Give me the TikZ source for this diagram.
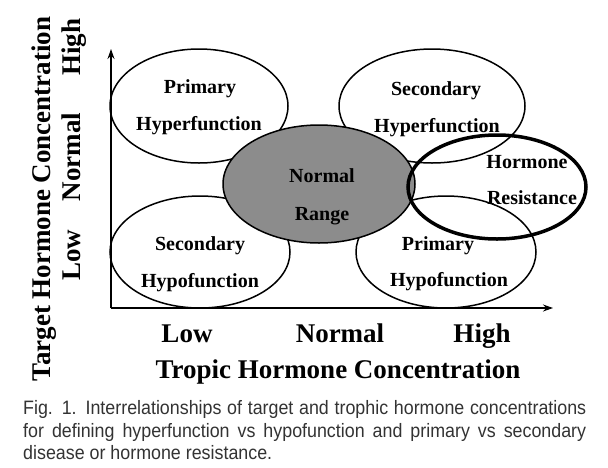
\documentclass[tikz,border=0pt]{standalone}
\usepackage{fontspec}
\setmainfont{Liberation Serif}
\newfontfamily\capfont[FakeStretch=0.92]{Liberation Sans}
\usetikzlibrary{arrows.meta}
\definecolor{rangegray}{gray}{0.55}
\definecolor{capgray}{gray}{0.2}

\begin{document}
\begin{tikzpicture}[x=1pt, y=-1pt, >={Stealth[length=10pt,width=7pt]},
    region/.style={line width=1.5pt},
    inlbl/.style={font=\fontsize{20}{22}\selectfont\bfseries, anchor=base, inner sep=0pt},
    axlbl/.style={font=\fontsize{27}{30}\selectfont\bfseries, anchor=base, inner sep=0pt},
    caplbl/.style={font=\capfont\fontsize{19.4}{22}\selectfont, text=capgray, anchor=base west, inner sep=0pt}]
    \useasboundingbox (0,0) rectangle (608,467);
    \fill[white] (0,0) rectangle (608,467);
    % axes
    \coordinate (O) at (111,308);
    \coordinate (Ytip) at (111,49);
    \coordinate (Xtip) at (553,308);
    \draw[->,line width=1.2pt] (O) -- (Ytip);
    \draw[->,line width=1.2pt] (O) -- (Xtip);
    % regions
    \coordinate (PHyper) at (199,106);
    \coordinate (SHyper) at (432,106);
    \coordinate (SHypo) at (200,252);
    \coordinate (PHypo) at (446,252);
    \coordinate (NR) at (319,184);
    \coordinate (HR) at (497,187);
    \foreach \c/\rx/\ry in {PHyper/89/57, SHyper/93/57, SHypo/90/56, PHypo/90/56}
        \draw[region] (\c) ellipse ({\rx} and {\ry});
    \draw[region,fill=rangegray] (NR) ellipse (96 and 59);
    \draw[line width=3.5pt] (HR) ellipse (89 and 52);
    % region labels
    \node[inlbl] (phyper1) at (200,93) {Primary};
    \node[inlbl] (phyper2) at (199,130) {Hyperfunction};
    \node[inlbl] (shyper1) at (436,95) {Secondary};
    \node[inlbl] (shyper2) at (437,132) {Hyperfunction};
    \node[inlbl] (nr1) at (322,182) {Normal};
    \node[inlbl] (nr2) at (322,220) {Range};
    \node[inlbl] (hr1) at (527,168) {Hormone};
    \node[inlbl] (hr2) at (532,204) {Resistance};
    \node[inlbl] (shypo1) at (200,250) {Secondary};
    \node[inlbl] (shypo2) at (200,287) {Hypofunction};
    \node[inlbl] (phypo1) at (438,250) {Primary};
    \node[inlbl] (phypo2) at (449,286) {Hypofunction};
    % x axis labels
    \node[axlbl] (xlow) at (187,342) {Low};
    \node[axlbl] (xnorm) at (340,342) {Normal};
    \node[axlbl] (xhigh) at (482,342) {High};
    \node[axlbl] (xtitle) at (338,378) {Tropic Hormone Concentration};
    % y axis labels
    \node[axlbl,rotate=90] (ylow) at (80,255) {Low};
    \node[axlbl,rotate=90] (ynorm) at (80,157) {Normal};
    \node[axlbl,rotate=90] (yhigh) at (80,47) {High};
    \node[axlbl,rotate=90] (ytitle) at (50,199) {Target Hormone Concentration};
    % caption
    \node[caplbl] (cap1) at (23,414) {\makebox[563pt][s]{Fig. 1. Interrelationships of target and trophic hormone concentrations}};
    \node[caplbl] (cap2) at (23,437) {\makebox[563pt][s]{for defining hyperfunction vs hypofunction and primary vs secondary}};
    \node[caplbl] (cap3) at (23,459) {disease or hormone resistance.};
\end{tikzpicture}
\end{document}
